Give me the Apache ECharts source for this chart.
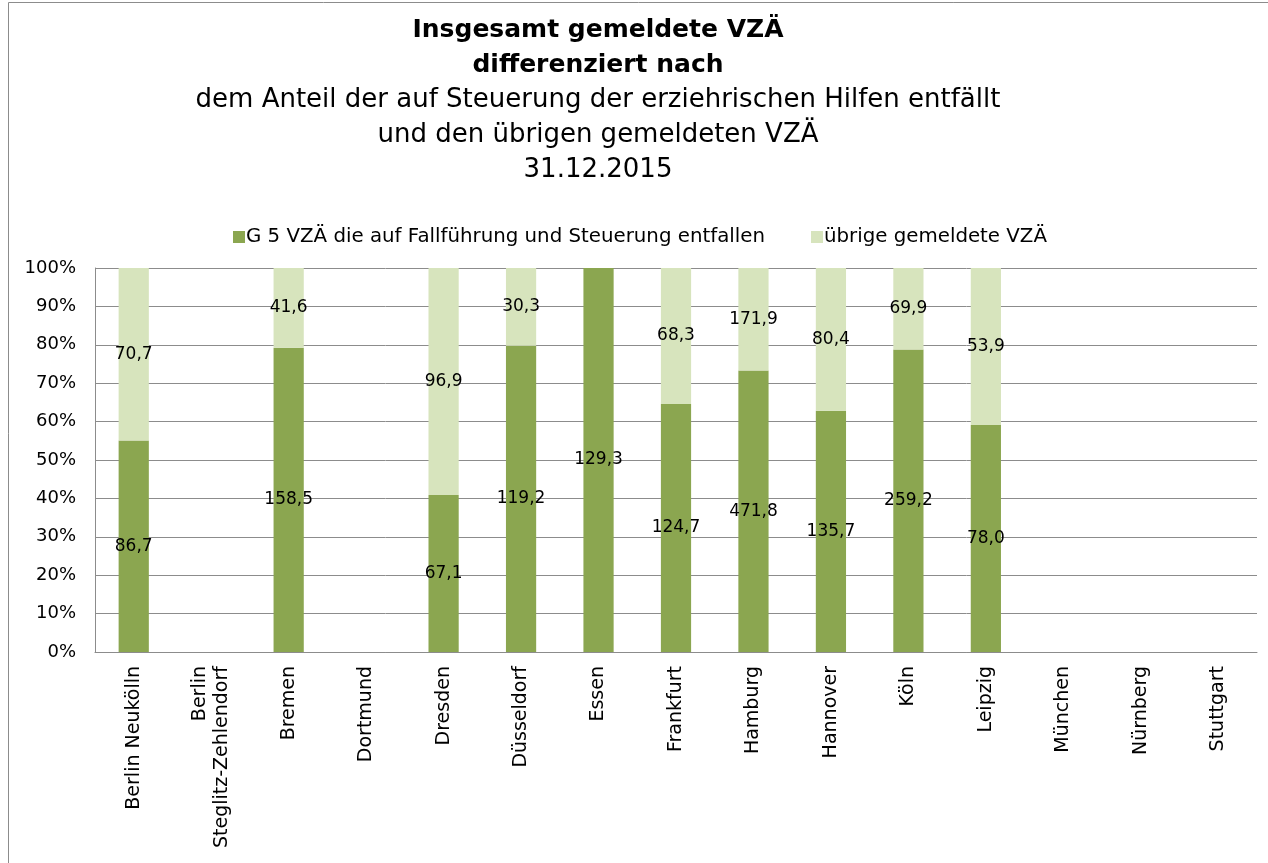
<!DOCTYPE html>
<html>
<head>
<meta charset="utf-8">
<script src="https://cdn.jsdelivr.net/npm/echarts@6/dist/echarts.min.js"></script>
<style>
	html, body { margin: 0; padding: 0; background: #fff; }
	#chart { width: 1268px; height: 863px; }
</style>
</head>
<body>
<div id="chart"></div>
<script>
const cities = ["Berlin Neukölln", "Berlin\nSteglitz-Zehlendorf", "Bremen", "Dortmund", "Dresden",
	"Düsseldorf", "Essen", "Frankfurt", "Hamburg", "Hannover", "Köln", "Leipzig",
	"München", "Nürnberg", "Stuttgart"];
const steuerung = [86.7, null, 158.5, null, 67.1, 119.2, 129.3, 124.7, 471.8, 135.7, 259.2, 78.0, null, null, null];
const uebrige = [70.7, null, 41.6, null, 96.9, 30.3, 0, 68.3, 171.9, 80.4, 69.9, 53.9, null, null, null];
const yTicks = [0, 10, 20, 30, 40, 50, 60, 70, 80, 90, 100];

const seriesNames = ["G 5 VZÄ die auf Fallführung und Steuerung entfallen", "übrige gemeldete VZÄ"];
const font = "DejaVu Sans";

// share of each part, keep the raw value for the label
function shares(part) {
	return part.map((v, i) => {
		if (v == null) return null;
		const total = (steuerung[i] || 0) + (uebrige[i] || 0);
		return { value: v / total * 100, raw: v };
	});
}

const fmt = (p) => {
	if (!p.data || !p.data.raw) return "";
	return p.data.raw.toFixed(1).replace(".", ",");
};

const chart = echarts.init(document.getElementById("chart"));

const lbl = {
	show: true,
	position: "inside",
	color: "#000",
	fontFamily: font,
	fontSize: 17,
	formatter: fmt
};

chart.setOption({
	animation: false,
	graphic: [{
		type: "rect",
		shape: { x: 8.5, y: 2.5, width: 1300, height: 900 },
		style: { fill: "none", stroke: "#8c8c8c", lineWidth: 1 }
	}, {
		type: "text",
		x: 598, y: 13,
		style: {
			text: "Insgesamt gemeldete VZÄ\ndifferenziert nach",
			align: "center",
			font: "bold 25px " + font,
			lineHeight: 35,
			fill: "#000"
		}
	}, {
		type: "text",
		x: 598, y: 83,
		style: {
			text: "dem Anteil der auf Steuerung der erziehrischen Hilfen entfällt\nund den übrigen gemeldeten VZÄ\n31.12.2015",
			align: "center",
			font: "26px " + font,
			lineHeight: 35,
			fill: "#000"
		}
	}],
	legend: {
		left: 228,
		top: 222,
		itemWidth: 12,
		itemHeight: 12,
		itemGap: 46,
		icon: "rect",
		textStyle: { fontFamily: font, fontSize: 19.8, color: "#000", padding: [0, 0, 0, -4] },
		data: seriesNames
	},
	grid: { left: 95, right: 11, top: 268, bottom: 211, containLabel: false },
	xAxis: {
		type: "category",
		data: cities,
		axisLine: { lineStyle: { color: "#8c8c8c" } },
		axisTick: { show: false },
		axisLabel: {
			rotate: 90,
			interval: 0,
			margin: 14,
			color: "#000",
			fontFamily: font,
			fontSize: 19,
			lineHeight: 22
		}
	},
	yAxis: {
		type: "value",
		min: 0,
		max: 100,
		interval: 10,
		axisLine: { show: true, lineStyle: { color: "#8c8c8c" } },
		splitLine: { lineStyle: { color: "#8c8c8c" } },
		axisLabel: {
			color: "#000",
			fontFamily: font,
			fontSize: 18,
			margin: 19,
			formatter: (v) => yTicks.includes(v) ? v + "%" : ""
		}
	},
	series: [{
		name: seriesNames[0],
		type: "bar",
		stack: "a",
		barWidth: "39%",
		itemStyle: { color: "#8ba650" },
		label: lbl,
		data: shares(steuerung)
	}, {
		name: seriesNames[1],
		type: "bar",
		stack: "a",
		barWidth: "39%",
		itemStyle: { color: "#d7e4bd" },
		label: lbl,
		data: shares(uebrige)
	}]
});
</script>
</body>
</html>
